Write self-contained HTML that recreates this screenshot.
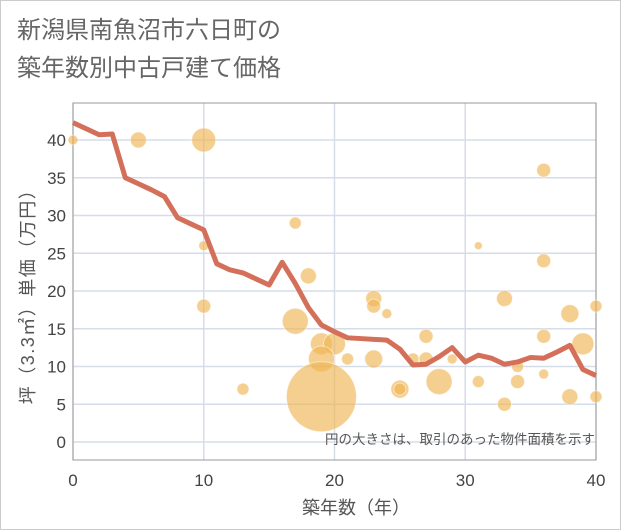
<!DOCTYPE html>
<html><head><meta charset="utf-8"><style>
body{margin:0;background:#fff}
svg{display:block;font-family:"Liberation Sans","Noto Sans CJK JP",sans-serif}
</style></head><body>
<svg width="621" height="530">
<rect x="0.5" y="0.5" width="620" height="529" fill="#fff" stroke="#ccc"/>
<text x="17" y="38" font-size="24" fill="#666">新潟県南魚沼市六日町の</text>
<text x="17" y="76" font-size="24" fill="#666">築年数別中古戸建て価格</text>
<g id="grid"></g>
<rect x="73" y="103" width="523" height="357" fill="none" stroke="#999"/>
<g id="bubbles"></g>
<polyline id="line" fill="none" stroke="#d4705a" stroke-width="5" stroke-linejoin="round"/>
<g id="axes"></g>
<text x="595" y="444" font-size="13.5" fill="#555" text-anchor="end">円の大きさは、取引のあった物件面積を示す</text>
<text x="356" y="514" font-size="18" fill="#555" text-anchor="middle">築年数（年）</text>
<text transform="translate(34,292) rotate(-90)" font-size="18" fill="#555" text-anchor="middle" letter-spacing="1.5">坪（3.3㎡）単価（万円）</text>
</svg>
<script>
const xTicks=[0,10,20,30,40];
const yTicks=[0,5,10,15,20,25,30,35,40];
const lineYears=[0,2,3,4,5,6,7,8,9,10,11,12,13,14,15,16,17,18,19,20,21,22,23,24,25,26,27,28,29,30,31,32,33,34,35,36,37,38,39,40];
const lineValues=[42.3,40.7,40.8,35,34.2,33.4,32.5,29.7,28.9,28.1,23.6,22.8,22.4,21.6,20.8,23.8,21,17.8,15.5,14.6,13.8,13.7,13.6,13.5,12.3,10.2,10.3,11.3,12.5,10.6,11.5,11.1,10.3,10.6,11.2,11.1,11.9,12.8,9.6,8.8];
const bubbleYears=[0,5,10,10,10,13,17,18,17,19,20,19,19,21,23,23,24,23,25,25,26,27,27,28,29,31,31,33,33,34,34,36,36,36,36,38,38,39,40,40];
const bubbleValues=[40,40,40,26,18,7,29,22,16,13,13,11,6,11,19,18,17,11,7,7,11,14,11,8,11,26,8,19,5,10,8,36,24,14,9,17,6,13,18,6];
const bubbleSizes=[5,8,12,5,7,6,6,8,13,11,11,13,35,6,8,7,5,9,9,6,6,7,7,13,5,4,6,8,7,6,7,7,7,7,5,9,8,11,6,6];
const X=v=>73+v*(523/40);
const Y=v=>442-v*7.55;
const NS='http://www.w3.org/2000/svg';
const grid=document.getElementById('grid'),axes=document.getElementById('axes');
yTicks.forEach(t=>{
 const l=document.createElementNS(NS,'line');
 
 
 l.setAttribute('x1',73);l.setAttribute('x2',596);l.setAttribute('y1',Y(t));l.setAttribute('y2',Y(t));
 l.setAttribute('stroke','#d5dde8');l.setAttribute('stroke-width',1.5);grid.appendChild(l);
 const tx=document.createElementNS(NS,'text');
 
 
 tx.setAttribute('x',66);tx.setAttribute('y',Y(t)+6);tx.setAttribute('text-anchor','end');
 tx.setAttribute('font-size','17');tx.setAttribute('fill','#444');tx.textContent=t;axes.appendChild(tx);
});
xTicks.forEach(t=>{
 const l=document.createElementNS(NS,'line');
 
 
 l.setAttribute('x1',X(t));l.setAttribute('x2',X(t));l.setAttribute('y1',103);l.setAttribute('y2',460);
 l.setAttribute('stroke','#d5dde8');l.setAttribute('stroke-width',1.5);grid.appendChild(l);
 const tx=document.createElementNS(NS,'text');
 
 
 tx.setAttribute('x',X(t));tx.setAttribute('y',486);tx.setAttribute('text-anchor','middle');
 tx.setAttribute('font-size','17');tx.setAttribute('fill','#444');tx.textContent=t;axes.appendChild(tx);
});
const bg=document.getElementById('bubbles');
bubbleYears.forEach((yr,i)=>{
 const c=document.createElementNS(NS,'circle');
 
 
 c.setAttribute('cx',X(yr));c.setAttribute('cy',Y(bubbleValues[i]));c.setAttribute('r',bubbleSizes[i]);
 c.setAttribute('fill','#f0b653');c.setAttribute('fill-opacity','0.65');c.setAttribute('stroke','#fff');c.setAttribute('stroke-opacity','0.5');
 bg.appendChild(c);
});
document.getElementById('line').setAttribute('points',lineYears.map((yr,i)=>X(yr)+','+Y(lineValues[i])).join(' '));
</script>
</body></html>
